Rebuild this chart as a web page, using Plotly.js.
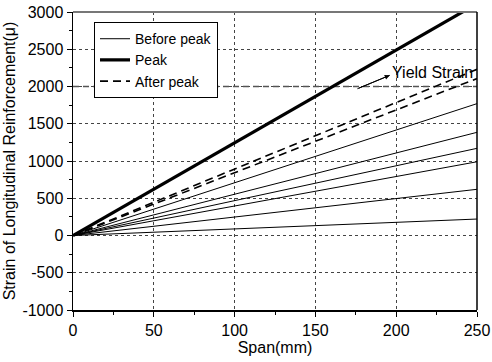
<!DOCTYPE html>
<html>
<head>
<meta charset="utf-8">
<script src="https://cdn.plot.ly/plotly-3.0.1.min.js"></script>
<style>html,body{margin:0;padding:0;background:#fff;}#chart{width:492px;height:362px;}</style>
</head>
<body>
<div id="chart"></div>
<script>
// Span positions (mm)
const span = [0, 250];
// Strain values at each span position
const beforePeak = [
  [0, 221],
  [0, 620],
  [0, 990],
  [0, 1170],
  [0, 1385],
  [0, 1770]
];
const peak = [0, 3112];
const afterPeak = [
  [0, 2231],
  [0, 2107]
];
const yieldSpan = [0, 250];
const yieldStrain = [2000, 2000];
const yieldLabel = 'Yield Strain';
const arrowTail = {x: 176, y: 1970};
const arrowHead = {x: 196, y: 2150};
const xTicks = [0, 50, 100, 150, 200, 250];
const xTickText = ['0', '50', '100', '150', '200', '250'];
const yTicks = [-1000, -500, 0, 500, 1000, 1500, 2000, 2500, 3000];
const yTickText = ['-1000', '-500', '0', '500', '1000', '1500', '2000', '2500', '3000'];

const FONT = 'Arial, "Liberation Sans", sans-serif';
const traces = [];
traces.push({x: yieldSpan, y: yieldStrain, mode: 'lines', showlegend: false,
  line: {color: '#555', width: 1.5, dash: '6px,4px'}, hoverinfo: 'skip'});
beforePeak.forEach((v, i) => traces.push({
  x: span, y: v, mode: 'lines', name: 'Before peak', legendgroup: 'b',
  showlegend: i === 0, line: {color: '#000', width: 1}
}));
traces.push({x: span, y: peak, mode: 'lines', name: 'Peak', legendgroup: 'p',
  line: {color: '#000', width: 3.2}});
afterPeak.forEach((v, i) => traces.push({
  x: span, y: v, mode: 'lines', name: 'After peak', legendgroup: 'a',
  showlegend: i === 0, line: {color: '#000', width: 1.6, dash: '8px,5px'}
}));

const layout = {
  width: 492, height: 362,
  margin: {l: 73, r: 15, t: 12, b: 52},
  paper_bgcolor: '#fff', plot_bgcolor: '#fff',
  font: {family: FONT, size: 16, color: '#000'},
  showlegend: true,
  legend: {x: 0.052, y: 0.966, xanchor: 'left', yanchor: 'top',
    bgcolor: '#fff', bordercolor: '#000', borderwidth: 1,
    font: {family: FONT, size: 14, color: '#000'}, tracegroupgap: 0},
  xaxis: {
    range: [0, 250], tickmode: 'array', tickvals: xTicks, ticktext: xTickText,
    showline: true, linecolor: '#000', linewidth: 1.5, mirror: false,
    ticks: 'outside', ticklen: 5, tickcolor: '#000', tickwidth: 1,
    minor: {dtick: 25, ticks: 'outside', ticklen: 3, tickcolor: '#000', showgrid: false},
    showgrid: true, gridcolor: '#444', griddash: 'dot', gridwidth: 1,
    zeroline: false, tickfont: {size: 16},
    title: {text: 'Span(mm)', font: {size: 16}, standoff: 1}
  },
  yaxis: {
    range: [-1000, 3000], tickmode: 'array', tickvals: yTicks, ticktext: yTickText,
    showline: true, linecolor: '#000', linewidth: 1.5, mirror: false,
    ticks: 'outside', ticklen: 5, tickcolor: '#000', tickwidth: 1,
    minor: {dtick: 250, ticks: 'outside', ticklen: 3, tickcolor: '#000', showgrid: false},
    showgrid: true, gridcolor: '#444', griddash: 'dot', gridwidth: 1,
    zeroline: false, tickfont: {size: 16},
    title: {text: 'Strain of Longitudinal Reinforcement(\u03bc)', font: {size: 16}, standoff: 3}
  },
  shapes: [
    {type: 'line', xref: 'paper', yref: 'paper', x0: 0, x1: 1, y0: 1, y1: 1,
      line: {color: '#777', width: 2}},
    {type: 'line', xref: 'paper', yref: 'paper', x0: 1, x1: 1, y0: 0, y1: 1,
      line: {color: '#000', width: 1.5}},
    {type: 'line', xref: 'x', yref: 'y', x0: arrowTail.x, y0: arrowTail.y,
      x1: arrowHead.x, y1: arrowHead.y, line: {color: '#000', width: 1}}
  ],
  annotations: [
    {x: arrowHead.x, y: arrowHead.y, ax: arrowTail.x, ay: arrowTail.y,
      axref: 'x', ayref: 'y', xref: 'x', yref: 'y', text: '', showarrow: true,
      arrowhead: 2, arrowsize: 1, arrowwidth: 1, arrowcolor: '#000'},
    {x: 196, y: 2190, xref: 'x', yref: 'y', text: yieldLabel, showarrow: false,
      xanchor: 'left', yanchor: 'middle', font: {family: FONT, size: 16, color: '#000'}}
  ]
};
Plotly.newPlot('chart', traces, layout, {staticPlot: true, displayModeBar: false});
</script>
</body>
</html>
